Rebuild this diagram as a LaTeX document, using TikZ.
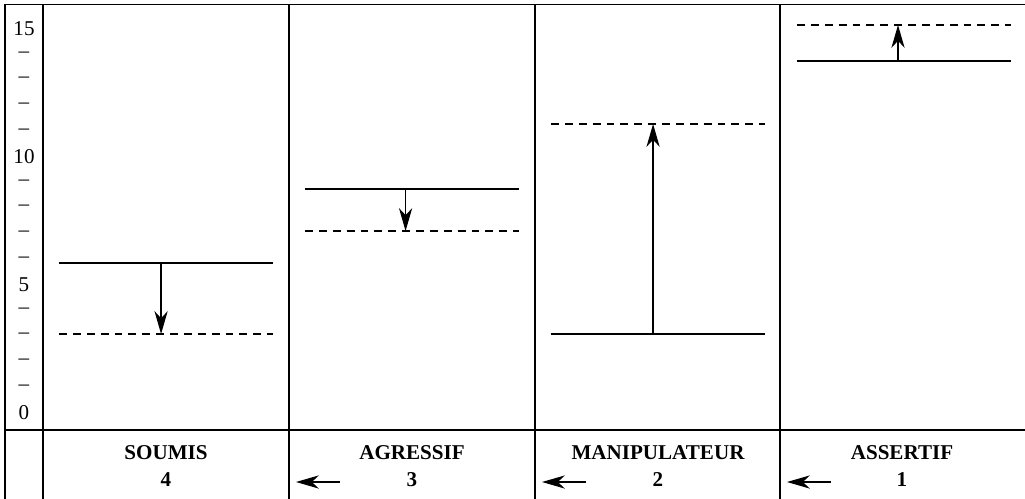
\documentclass[tikz,border=0pt]{standalone}
\usepackage{fontspec}
\setmainfont{Liberation Serif}
\usetikzlibrary{arrows.meta}
\usetikzlibrary{calc}

\begin{document}
\begin{tikzpicture}[x=0.02cm,y=-0.02cm]
\tikzset{frame/.style={line width=0.8pt}}
\tikzset{level/.style={line width=0.6pt}}
\tikzset{target/.style={line width=0.6pt, dash pattern=on 4.5pt off 3.4pt}}
\tikzset{move/.style={line width=0.7pt, -{Stealth[length=13pt,width=7.5pt,inset=4pt]}}}
\tikzset{tick/.style={font=\fontsize{12}{14}\selectfont, inner sep=0pt}}
\tikzset{type/.style={font=\fontsize{12}{15.3}\selectfont\bfseries, align=center, inner sep=0pt}}
\useasboundingbox (0,0) rectangle (1025,498);
% frame and columns
\draw[frame] (5,4.5) rectangle (1030,505);
\draw[frame] (5,430) -- (1030,430);
\foreach \x in {43,289,535,780} \draw[frame] (\x,4.5) -- (\x,505);
% scale
\foreach \i in {0,5,10,15} \node[tick] (t\i) at (24,{413-25.6*\i}) {\i};
\foreach \i in {1,...,4,6,7,8,9,11,12,13,14} \node[tick] (t\i) at (24,{413-25.6*\i}) {--};
% soumis
\coordinate (soumisL) at (59,263); \coordinate (soumisR) at (273,263);
\coordinate (soumisDL) at (59,334); \coordinate (soumisDR) at (273,334);
\draw[level] (soumisL) -- (soumisR);
\draw[target] (soumisDL) -- (soumisDR);
\draw[move] ($(soumisL)!0.477!(soumisR)$) -- ($(soumisDL)!0.477!(soumisDR)$);
% agressif
\coordinate (agrL) at (305,189); \coordinate (agrR) at (519,189);
\coordinate (agrDL) at (305,231); \coordinate (agrDR) at (519,231);
\draw[level] (agrL) -- (agrR);
\draw[target] (agrDL) -- (agrDR);
\draw[move] ($(agrL)!0.47!(agrR)$) -- ($(agrDL)!0.47!(agrDR)$);
% manipulateur
\coordinate (manL) at (551,334); \coordinate (manR) at (765,334);
\coordinate (manDL) at (551,124); \coordinate (manDR) at (765,124);
\draw[level] (manL) -- (manR);
\draw[target] (manDL) -- (manDR);
\draw[move] ($(manL)!0.477!(manR)$) -- ($(manDL)!0.477!(manDR)$);
% assertif
\coordinate (assL) at (797,61); \coordinate (assR) at (1011,61);
\coordinate (assDL) at (797,25); \coordinate (assDR) at (1011,25);
\draw[level] (assL) -- (assR);
\draw[target] (assDL) -- (assDR);
\draw[move] ($(assL)!0.472!(assR)$) -- ($(assDL)!0.472!(assDR)$);
% types
\node[type] (soumis) at (166,466) {SOUMIS\\4};
\node[type] (agressif) at (412,466) {AGRESSIF\\3};
\node[type] (manipulateur) at (658,466) {MANIPULATEUR\\2};
\node[type] (assertif) at (902,466) {ASSERTIF\\1};
\foreach \x/\n in {289/a,535/b,780/c} {
  \coordinate (tail\n) at (\x+51,482); \coordinate (tip\n) at (\x+7,482);
  \draw[move] (tail\n) -- (tip\n);
}
\end{tikzpicture}
\end{document}
